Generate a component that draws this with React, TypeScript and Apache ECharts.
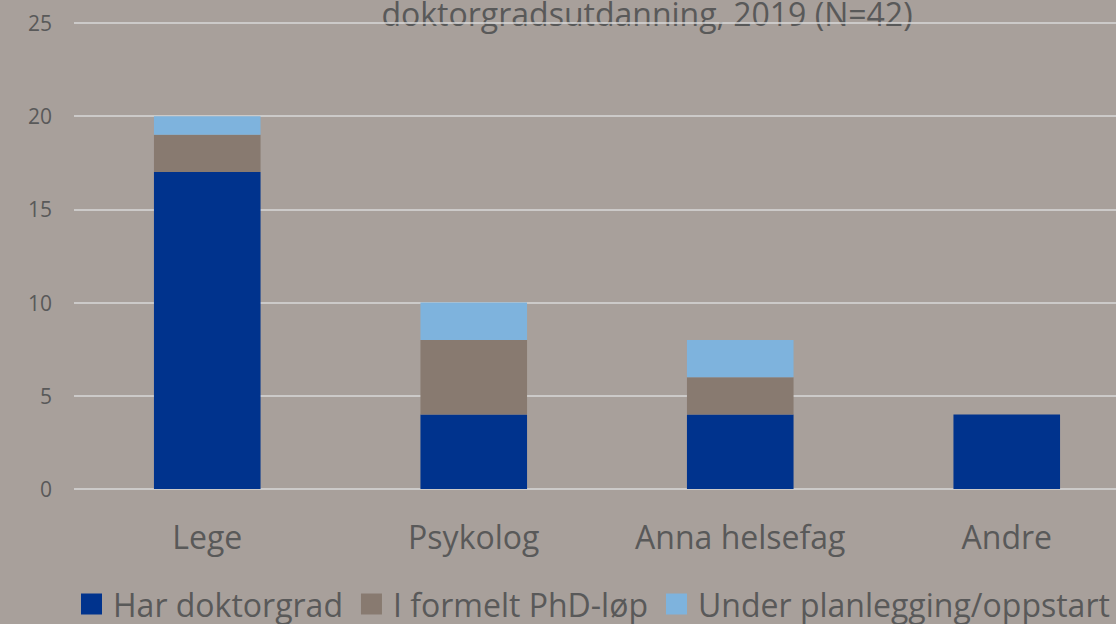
import React, { useEffect, useRef } from "react";
import * as echarts from "echarts";

const categories = ["Lege", "Psykolog", "Anna helsefag", "Andre"];
const harDoktorgrad = [17, 4, 4, 4];
const formeltPhd = [2, 4, 2, 0];
const underPlanlegging = [1, 2, 2, 0];
const seriesNames = ["Har doktorgrad", "I formelt PhD-løp", "Under planlegging/oppstart"];
const titleText = "doktorgradsutdanning, 2019 (N=42)";

const FONT = "'Open Sans', 'Noto Sans', sans-serif";
const TXT = "#595959";

export default function App() {
  const ref = useRef<HTMLDivElement>(null);
  useEffect(() => {
    if (!ref.current) return;
    const chart = echarts.init(ref.current, null, { renderer: "svg" });
    const colors = ["#00338D", "#887A70", "#7EB3DD"];
    const data = [harDoktorgrad, formeltPhd, underPlanlegging];
    chart.setOption({
      animation: false,
      backgroundColor: "#A8A09B",
      textStyle: { fontFamily: FONT },
      graphic: [
        {
          type: "text",
          x: 647,
          y: 29,
          style: {
            text: titleText,
            fontSize: 32,
            fontFamily: FONT,
            fill: TXT,
            align: "center",
            verticalAlign: "bottom",
          },
        },
      ],
      grid: {
        left: 74,
        width: 1066,
        top: 23,
        bottom: 135,
        containLabel: false,
        outerBoundsMode: "none",
      },
      legend: {
        left: 81,
        top: 588,
        padding: 0,
        itemWidth: 21,
        itemHeight: 21,
        itemGap: 18,
        icon: "rect",
        textStyle: { fontSize: 32, color: TXT, fontFamily: FONT, padding: [0, 0, 0, 6] },
        data: seriesNames,
      },
      xAxis: {
        type: "category",
        data: categories,
        axisLine: { show: false },
        axisTick: { show: false },
        axisLabel: { fontSize: 32, color: TXT, margin: 31, fontFamily: FONT, interval: 0 },
      },
      yAxis: {
        type: "value",
        min: 0,
        max: 25,
        interval: 5,
        axisLine: { show: false },
        axisTick: { show: false },
        axisLabel: { fontSize: 21, color: TXT, margin: 22, fontFamily: FONT },
        splitLine: { lineStyle: { color: "#D9D9D9", width: 1.5 } },
      },
      series: seriesNames.map((name, i) => ({
        name,
        type: "bar",
        stack: "total",
        barWidth: "40%",
        data: data[i],
        itemStyle: { color: colors[i] },
      })),
    });
    return () => chart.dispose();
  }, []);
  return <div ref={ref} style={{ width: 1116, height: 624, position: "absolute", left: 0, top: 0 }} />;
}
